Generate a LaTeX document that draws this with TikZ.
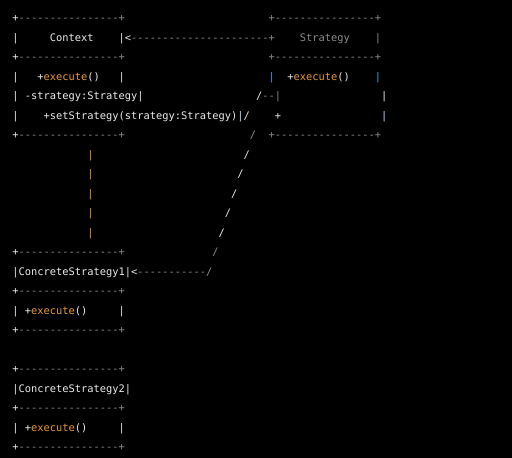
\documentclass[tikz,border=0pt]{standalone}
\usepackage{fontspec}
\setmonofont{DejaVu Sans Mono}
\definecolor{W}{HTML}{ECECEC}
\definecolor{G}{HTML}{8A8A8A}
\definecolor{O}{HTML}{E89B2E}
\definecolor{C}{HTML}{3AA6EE}
\definecolor{LC}{HTML}{B8DDFA}
\tikzset{
  seg/.style={anchor=base west, inner sep=0pt, outer sep=0pt,
    font=\ttfamily\fontsize{10.38}{12}\selectfont}
}
% name, column, row, colour, text
\newcommand\seg[5]{\node[seg,text=#4] (#1) at ({12.4+6.25*#2},{455.5-19.5*#3}) {#5};}
\begin{document}
\begin{tikzpicture}[x=1pt,y=1pt]
\fill[black] (0,0) rectangle (512,458);
\useasboundingbox (0,0) rectangle (512,458);
% row 1
\seg{a1}{0}{1}{W}{+}
\seg{a2}{1}{1}{G}{----------------+}
\seg{a3}{41}{1}{G}{+----------------+}
% row 2
\seg{b1}{0}{2}{W}{|}
\seg{b2}{6}{2}{W}{Context}
\seg{b3}{17}{2}{W}{|<}
\seg{b4}{19}{2}{G}{----------------------+}
\seg{b5}{46}{2}{G}{Strategy}
\seg{b6}{58}{2}{G}{|}
% row 3
\seg{c1}{0}{3}{W}{+}
\seg{c2}{1}{3}{G}{----------------+}
\seg{c3}{41}{3}{G}{+----------------+}
% row 4
\seg{d1}{0}{4}{W}{|}
\seg{d2}{4}{4}{W}{+}
\seg{d3}{5}{4}{O}{execute}
\seg{d4}{12}{4}{W}{()}
\seg{d5}{17}{4}{W}{|}
\seg{d6}{41}{4}{C}{|}
\seg{d7}{44}{4}{W}{+}
\seg{d8}{45}{4}{O}{execute}
\seg{d9}{52}{4}{W}{()}
\seg{d10}{58}{4}{C}{|}
% row 5
\seg{e1}{0}{5}{W}{|}
\seg{e2}{2}{5}{W}{-strategy:Strategy|}
\seg{e3}{39}{5}{W}{/}
\seg{e4}{40}{5}{G}{--|}
\seg{e5}{59}{5}{W}{|}
% row 6
\seg{f1}{0}{6}{W}{|}
\seg{f2}{5}{6}{W}{+setStrategy(strategy:Strategy)}
\seg{f3}{36}{6}{LC}{|}
\seg{f4}{37}{6}{W}{/}
\seg{f5}{42}{6}{W}{+}
\seg{f6}{59}{6}{LC}{|}
% row 7
\seg{g1}{0}{7}{W}{+}
\seg{g2}{1}{7}{G}{----------------+}
\seg{g3}{38}{7}{G}{/}
\seg{g4}{41}{7}{G}{+----------------+}
% rows 8-12
\seg{h1}{12}{8}{O}{|}
\seg{h2}{37}{8}{W}{/}
\seg{i1}{12}{9}{O}{|}
\seg{i2}{36}{9}{W}{/}
\seg{j1}{12}{10}{O}{|}
\seg{j2}{35}{10}{W}{/}
\seg{k1}{12}{11}{O}{|}
\seg{k2}{34}{11}{W}{/}
\seg{l1}{12}{12}{O}{|}
\seg{l2}{33}{12}{W}{/}
% row 13
\seg{m1}{0}{13}{W}{+}
\seg{m2}{1}{13}{G}{----------------+}
\seg{m3}{32}{13}{G}{/}
% row 14
\seg{n1}{0}{14}{W}{|ConcreteStrategy1|<}
\seg{n2}{20}{14}{G}{-----------/}
% row 15
\seg{o1}{0}{15}{W}{+}
\seg{o2}{1}{15}{G}{----------------+}
% row 16
\seg{p1}{0}{16}{W}{|}
\seg{p2}{2}{16}{W}{+}
\seg{p3}{3}{16}{O}{execute}
\seg{p4}{10}{16}{W}{()}
\seg{p5}{17}{16}{W}{|}
% row 17
\seg{q1}{0}{17}{W}{+}
\seg{q2}{1}{17}{G}{----------------+}
% row 19
\seg{s1}{0}{19}{W}{+}
\seg{s2}{1}{19}{G}{----------------+}
% row 20
\seg{t1}{0}{20}{W}{|ConcreteStrategy2|}
% row 21
\seg{u1}{0}{21}{W}{+}
\seg{u2}{1}{21}{G}{----------------+}
% row 22
\seg{v1}{0}{22}{W}{|}
\seg{v2}{2}{22}{W}{+}
\seg{v3}{3}{22}{O}{execute}
\seg{v4}{10}{22}{W}{()}
\seg{v5}{17}{22}{W}{|}
% row 23
\seg{w1}{0}{23}{W}{+}
\seg{w2}{1}{23}{G}{----------------+}
\end{tikzpicture}
\end{document}
